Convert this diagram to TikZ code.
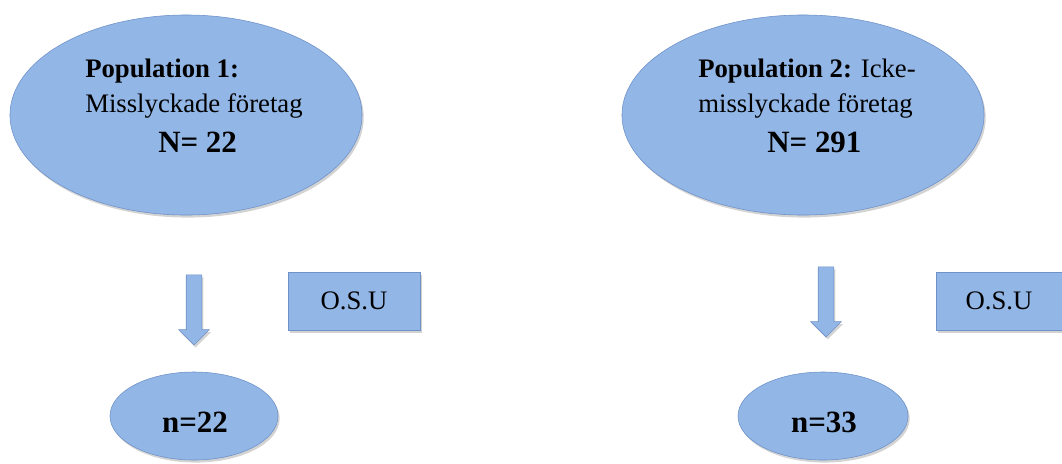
\documentclass[tikz,border=0pt]{standalone}
\usepackage{fontspec}
\setmainfont{Liberation Serif}
\usetikzlibrary{shapes.geometric,shapes.arrows,shadows}
\definecolor{popblue}{RGB}{146,182,230}
\definecolor{popedge}{RGB}{110,145,200}

\begin{document}
\begin{tikzpicture}[x=0.025cm, y=-0.025cm,
    shade/.style={drop shadow={shadow xshift=1.2pt, shadow yshift=-1.8pt, opacity=0.35}},
    pop/.style={ellipse, draw=popedge, fill=popblue, shade, inner sep=0pt},
    osu/.style={rectangle, draw=popedge, fill=popblue, shade,
      minimum width=3.3cm, minimum height=1.45cm, font=\fontsize{19}{23}\selectfont},
    down/.style={single arrow, shape border rotate=270, draw=popedge, fill=popblue, shade,
      minimum height=1.75cm, inner sep=0.1875cm, single arrow head extend=0.1875cm},
    txt/.style={anchor=base west, inner sep=0pt, font=\fontsize{19}{23}\selectfont},
    big/.style={anchor=base, inner sep=0pt, font=\fontsize{22}{26}\selectfont\bfseries}]

  \useasboundingbox (0,0) rectangle (1062,463);

  % population 1
  \node[pop, minimum width=8.8cm, minimum height=5cm] (pop1) at (186,115) {};
  \node[txt] (pop1a) at (85,77)  {\textbf{Population 1:}};
  \node[txt] (pop1b) at (85,112) {Misslyckade företag};
  \node[txt, font=\fontsize{22}{26}\selectfont\bfseries] (pop1c) at (158,152) {N= 22};

  \node[down] (arr1) at (194,306) {};
  \node[osu] (osu1) at (354,301) {O.S.U};
  \node[pop, minimum width=4.2cm, minimum height=2.2cm] (samp1) at (194,416) {};
  \node[big] (samp1txt) at (195,432) {n=22};

  % population 2
  \node[pop, minimum width=9.05cm, minimum height=5cm] (pop2) at (803,115) {};
  \node[txt] (pop2a) at (698,77)  {\textbf{Population 2:} Icke-};
  \node[txt] (pop2b) at (698,112) {misslyckade företag};
  \node[txt, font=\fontsize{22}{26}\selectfont\bfseries] (pop2c) at (767,152) {N= 291};

  \node[down] (arr2) at (826,298) {};
  \node[osu, minimum width=3.15cm] (osu2) at (999,301) {O.S.U};
  \node[pop, minimum width=4.25cm, minimum height=2.2cm] (samp2) at (823,416) {};
  \node[big] (samp2txt) at (824,432) {n=33};
\end{tikzpicture}
\end{document}
